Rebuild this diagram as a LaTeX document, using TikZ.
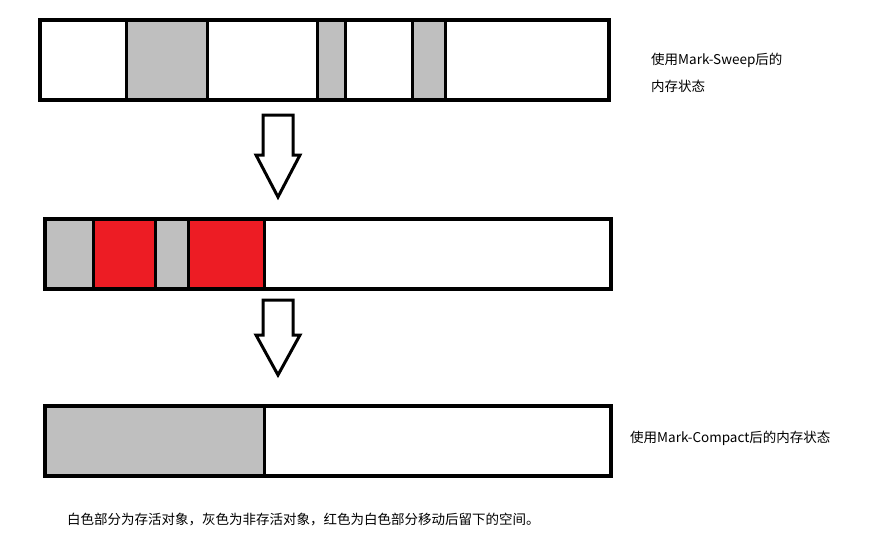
\documentclass[tikz,border=0pt]{standalone}
\usepackage{fontspec}
\setmainfont{Noto Sans CJK SC}
\begin{document}
\begin{tikzpicture}[x=1pt,y=-1pt,
  bar/.style={draw=black,line width=4pt},
  gr/.style={fill=gray!50!white},
  arr/.style={draw=black,line width=3pt,fill=white,line join=miter},
  lab/.style={anchor=west,font=\fontsize{13.5}{16}\selectfont,inner sep=0}]
\useasboundingbox (0,0) rectangle (885,547);
% top
\fill[gr] (126,18) rectangle (207,98);
\fill[gr] (317,18) rectangle (345,98);
\fill[gr] (412,18) rectangle (445,98);
\foreach \x in {126,207,317,345,412,445}\draw[line width=3pt](\x,18)--(\x,98);
\node[bar,minimum width=569pt,minimum height=80pt,anchor=north west,inner sep=0] (top) at (38,18) {};
% middle
\fill[gr] (43,217) rectangle (93,287);
\fill[fill={rgb,255:red,237;green,28;blue,36}] (93,217) rectangle (155,287);
\fill[gr] (155,217) rectangle (188,287);
\fill[fill={rgb,255:red,237;green,28;blue,36}] (188,217) rectangle (264,287);
\foreach \x in {93,155,188,264}\draw[line width=3pt](\x,217)--(\x,287);
\node[bar,minimum width=566pt,minimum height=70pt,anchor=north west,inner sep=0] (mid) at (43,217) {};
% bottom
\fill[gr] (43,404) rectangle (264,474);
\draw[line width=3pt](264,404)--(264,474);
\node[bar,minimum width=566pt,minimum height=70pt,anchor=north west,inner sep=0] (bot) at (43,404) {};
% arrows
\draw[arr] (263,115)--(293,115)--(293,155)--(300,155)--(278,197)--(256,155)--(263,155)--cycle;
\draw[arr] (263,300)--(293,300)--(293,335)--(300,335)--(278,375)--(256,335)--(263,335)--cycle;
% texts
\node[lab] (t1) at (651,60) {使用Mark-Sweep后的};
\node[lab] (t2) at (651,86) {内存状态};
\node[lab] (t3) at (630,438) {使用Mark-Compact后的内存状态};
\node[lab] (t4) at (67,519) {白色部分为存活对象，灰色为非存活对象，红色为白色部分移动后留下的空间。};
\end{tikzpicture}
\end{document}
